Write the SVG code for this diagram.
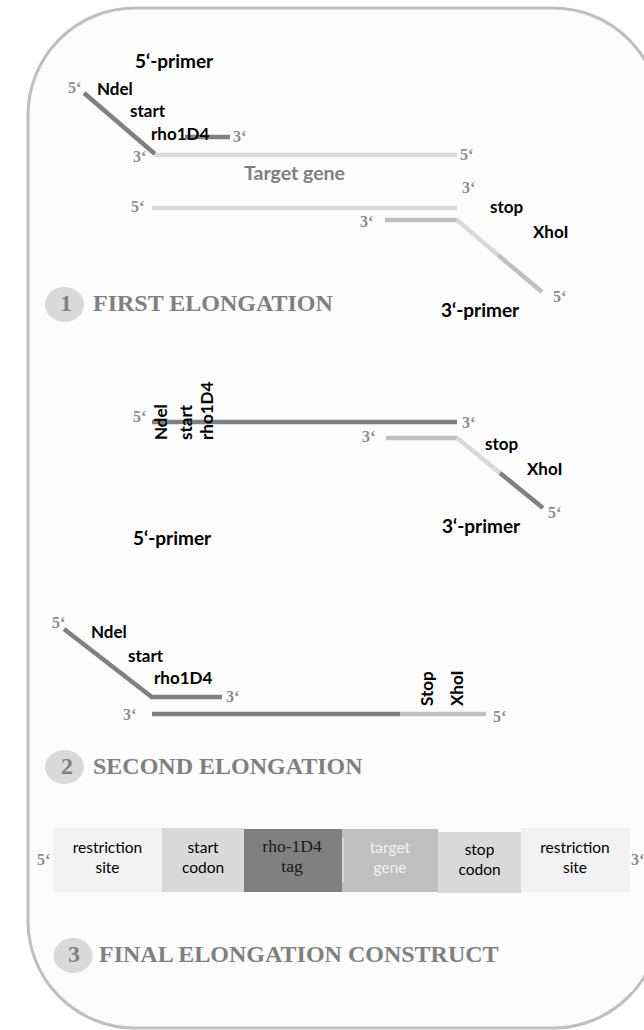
<svg xmlns="http://www.w3.org/2000/svg" width="644" height="1030" viewBox="0 0 644 1030">
<defs>
<style>
.frame{fill:#fcfcfc;stroke:#bfbfbf;stroke-width:3}
.s{fill:none;stroke-width:4.5;stroke-linecap:butt}
.dk{stroke:#808080}
.md{stroke:#bfbfbf}
.lt{stroke:#d9d9d9}
.end{font-family:"Liberation Serif",serif;font-weight:bold;font-size:16px;fill:#8c8c8c}
.lab{font-family:Lato,"Open Sans",sans-serif;font-weight:bold;font-size:17px;fill:#000}
.big{font-family:Lato,"Open Sans",sans-serif;font-weight:bold;font-size:19px;fill:#000}
.tg{font-family:Lato,"Open Sans",sans-serif;font-weight:bold;font-size:19.5px;fill:#7f7f7f}
.step{font-family:"Liberation Serif",serif;font-weight:bold;font-size:24px;fill:#808080}
.num{font-family:"Liberation Serif",serif;font-weight:bold;font-size:24px;fill:#808080;text-anchor:middle}
.badge{fill:#d9d9d9}
.box{font-family:Lato,"Open Sans",sans-serif;font-size:15.5px;fill:#000;text-anchor:middle}
.boxw{font-family:Lato,"Open Sans",sans-serif;font-size:15.5px;fill:#f2f2f2;text-anchor:middle}
.boxs{font-family:"Liberation Serif",serif;font-size:17.5px;fill:#1a1a1a;text-anchor:middle}
.sep{stroke:#f2f2f2;stroke-width:1}
</style>
</defs>
<rect class="frame" x="28" y="8" width="632" height="1020" rx="107" ry="107"/>

<g id="connectors">
  <line class="s dk" x1="84" y1="93" x2="155" y2="154"/>
  <line class="s dk" x1="185" y1="137" x2="230" y2="137"/>
  <line class="s lt" x1="155" y1="155" x2="457" y2="155"/>
  <line class="s lt" x1="152" y1="208" x2="457" y2="208"/>
  <line class="s md" x1="385" y1="220" x2="457" y2="220"/>
  <line class="s lt" x1="457" y1="220" x2="498" y2="255"/>
  <line class="s md" x1="498" y1="255" x2="542" y2="292"/>
  <line class="s dk" x1="152" y1="422" x2="457" y2="422"/>
  <line class="s md" x1="386" y1="438" x2="457" y2="438"/>
  <line class="s lt" x1="457" y1="438" x2="500" y2="473"/>
  <line class="s dk" x1="500" y1="473" x2="543" y2="508"/>
  <line class="s dk" x1="64" y1="629" x2="153" y2="698"/>
  <line class="s dk" x1="152" y1="697" x2="222" y2="697"/>
  <line class="s dk" x1="152" y1="714" x2="400" y2="714"/>
  <line class="s md" x1="400" y1="714" x2="486" y2="714"/>
</g>

<g id="first-elongation">
  <text class="big" x="135" y="68">5‘-primer</text>
  <text class="end" x="68" y="93">5‘</text>
  <text class="lab" x="97" y="95">Ndel</text>
  <text class="lab" x="130" y="117">start</text>
  <text class="lab" x="151" y="140">rho1D4</text>
  <text class="end" x="233" y="142">3‘</text>
  <text class="end" x="133" y="162">3‘</text>
  <text class="end" x="460" y="160">5‘</text>
  <text class="tg" x="244" y="180">Target gene</text>
  <text class="end" x="462" y="193">3‘</text>
  <text class="end" x="131" y="212">5‘</text>
  <text class="end" x="360" y="227">3‘</text>
  <text class="lab" x="490" y="213">stop</text>
  <text class="lab" x="533" y="238">XhoI</text>
  <text class="end" x="553" y="302">5‘</text>
  <text class="big" x="441" y="317">3‘-primer</text>
  <g id="step1">
    <ellipse class="badge" cx="64.5" cy="304.5" rx="19.5" ry="17.5"/>
    <text class="num" x="66" y="311">1</text>
    <text class="step" x="93" y="311">FIRST ELONGATION</text>
  </g>
</g>

<g id="second-elongation-a">
  <text class="end" x="133" y="422">5‘</text>
  <text class="lab" transform="translate(167,440) rotate(-90)">Ndel</text>
  <text class="lab" transform="translate(192,440) rotate(-90)">start</text>
  <text class="lab" transform="translate(213,440) rotate(-90)">rho1D4</text>
  <text class="end" x="462" y="428">3‘</text>
  <text class="end" x="362" y="442">3‘</text>
  <text class="lab" x="485" y="450">stop</text>
  <text class="lab" x="527" y="475">XhoI</text>
  <text class="end" x="548" y="518">5‘</text>
  <text class="big" x="442" y="533">3‘-primer</text>
  <text class="big" x="133" y="545">5‘-primer</text>
</g>

<g id="second-elongation-b">
  <text class="end" x="52" y="628">5‘</text>
  <text class="lab" x="91" y="638">Ndel</text>
  <text class="lab" x="128" y="662">start</text>
  <text class="lab" x="154" y="684">rho1D4</text>
  <text class="end" x="226" y="702">3‘</text>
  <text class="end" x="123" y="720">3‘</text>
  <text class="end" x="493" y="722">5‘</text>
  <text class="lab" transform="translate(433,706) rotate(-90)">Stop</text>
  <text class="lab" transform="translate(463,706) rotate(-90)">XhoI</text>
  <g id="step2">
    <ellipse class="badge" cx="64.5" cy="767" rx="19.5" ry="17"/>
    <text class="num" x="67" y="774">2</text>
    <text class="step" x="93" y="774">SECOND ELONGATION</text>
  </g>
</g>

<g id="final-construct">
  <text class="end" x="37" y="865">5‘</text>
  <g id="seg-restriction-1">
    <rect x="53" y="828" width="109" height="64" fill="#f2f2f2"/>
    <text class="box" x="107.5" y="853">restriction</text>
    <text class="box" x="107.5" y="873">site</text>
  </g>
  <g id="seg-start">
    <rect x="162" y="828" width="82" height="64" fill="#d9d9d9"/>
    <text class="box" x="203" y="853">start</text>
    <text class="box" x="203" y="873">codon</text>
  </g>
  <g id="seg-tag">
    <rect x="244" y="829" width="98" height="63" fill="#808080"/>
    <text class="boxs" x="292" y="852">rho-1D4</text>
    <text class="boxs" x="292" y="872">tag</text>
  </g>
  <g id="seg-target">
    <rect x="342" y="829" width="96" height="63" fill="#bfbfbf"/>
    <line class="sep" x1="343" y1="838" x2="343" y2="882"/>
    <text class="boxw" x="390" y="853">target</text>
    <text class="boxw" x="390" y="873">gene</text>
  </g>
  <g id="seg-stop">
    <rect x="438" y="832" width="83" height="61" fill="#d9d9d9"/>
    <text class="box" x="479.5" y="855">stop</text>
    <text class="box" x="479.5" y="875">codon</text>
  </g>
  <g id="seg-restriction-2">
    <rect x="521" y="828" width="109" height="64" fill="#f2f2f2"/>
    <text class="box" x="575" y="853">restriction</text>
    <text class="box" x="575" y="873">site</text>
  </g>
  <text class="end" x="631" y="865">3‘</text>
  <g id="step3">
    <ellipse class="badge" cx="73" cy="955.5" rx="19.5" ry="17.5"/>
    <text class="num" x="74" y="962">3</text>
    <text class="step" x="99" y="962">FINAL ELONGATION CONSTRUCT</text>
  </g>
</g>
</svg>
